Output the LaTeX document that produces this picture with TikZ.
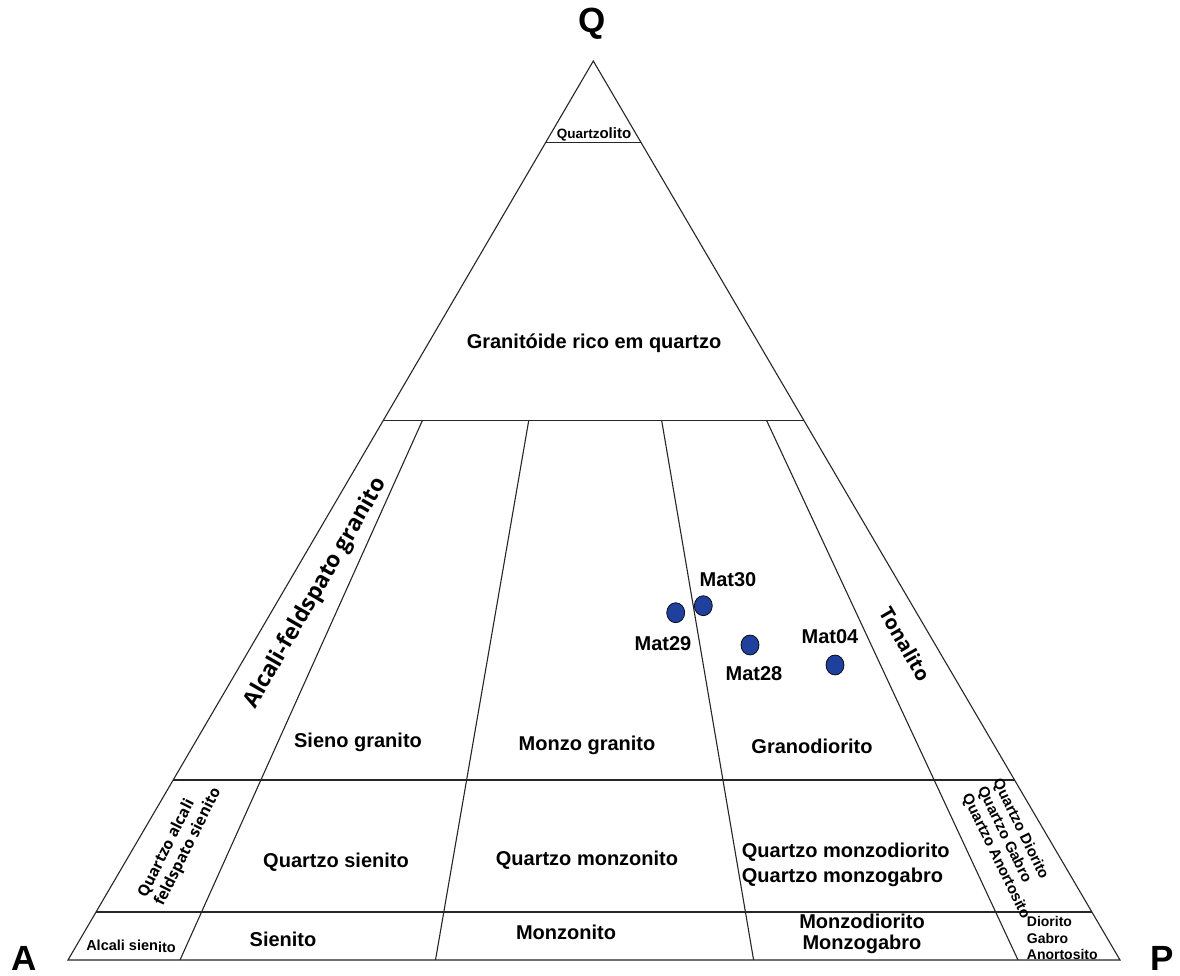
\documentclass[tikz,border=0pt]{standalone}
\usepackage{fontspec}
\setmainfont{Liberation Sans}
\newfontfamily\osans{Open Sans}
\usetikzlibrary{calc,shapes.geometric}
\definecolor{dotblue}{RGB}{32,64,158}
\tikzset{
  edge/.style={line width=1.1pt, black!85},
  lbl/.style={inner sep=0pt, font=\bfseries\fontsize{20}{22}\selectfont},
  olbl/.style={inner sep=0pt, font=\osans\bfseries\fontsize{20}{22}\selectfont},
  small/.style={inner sep=0pt, font=\bfseries\fontsize{14}{16.5}\selectfont},
  corner/.style={inner sep=0pt, font=\bfseries\fontsize{35}{38}\selectfont},
  sample/.style={ellipse, draw=black, line width=0.7pt, fill=dotblue, minimum width=18pt, minimum height=20pt, inner sep=0pt},
}
\begin{document}
\begin{tikzpicture}[x=1pt,y=-1pt]
\useasboundingbox (0,0) rectangle (1180,976);
% vertices
\coordinate (Av) at (68,960);
\coordinate (Pv) at (1120,960);
\coordinate (Qv) at (593.3,61);
% edge points
\coordinate (a90) at ($(Av)!0.9091!(Qv)$);
\coordinate (p90) at ($(Pv)!0.9091!(Qv)$);
\coordinate (a60) at ($(Av)!0.6!(Qv)$);
\coordinate (p60) at ($(Pv)!0.6!(Qv)$);
\coordinate (a20) at ($(Av)!0.2002!(Qv)$);
\coordinate (p20) at ($(Pv)!0.2002!(Qv)$);
\coordinate (a5) at ($(Av)!0.0534!(Qv)$);
\coordinate (p5) at ($(Pv)!0.0534!(Qv)$);
% divider ends
\coordinate (d1t) at (422.3,420.7);
\coordinate (d1b) at (180,960);
\coordinate (d2t) at (528.7,420.7);
\coordinate (d2b) at (435.5,960);
\coordinate (d3t) at (661.7,420.7);
\coordinate (d3b) at (753.6,960);
\coordinate (d4t) at (766.7,420.7);
\coordinate (d4b) at (1018,960);

\draw[edge] (Av) -- (Qv) -- (Pv) -- cycle;
\draw[edge] (a90) -- (p90);
\draw[edge] (a60) -- (p60);
\draw[edge] (a20) -- (p20);
\draw[edge] (a5) -- (p5);
\draw[edge] (d1t) -- (d1b);
\draw[edge] (d2t) -- (d2b);
\draw[edge] (d3t) -- (d3b);
\draw[edge] (d4t) -- (d4b);

% corner labels
\node[corner] (qlab) at (592,24) {Q};
\node[corner] (alab) at (24,958) {A};
\node[corner] (plab) at (1161.7,958) {P};

% field labels
\node[inner sep=0pt, font=\bfseries] (qzl) at (594,134) {\fontsize{13.5}{15}\selectfont Quartz\fontsize{15}{16}\selectfont olito};
\node[lbl] (grq) at (594,343) {Granitóide rico em quartzo};
\node[olbl, font=\osans\bfseries\fontsize{22.5}{24}\selectfont, rotate=60] (afg) at (316,593) {Alcali-feldspato granito};
\node[olbl, rotate=-60] (ton) at (905,644) {Tonalito};
\node[lbl] (sgr) at (358,742) {Sieno granito};
\node[lbl] (mgr) at (587,745) {Monzo granito};
\node[lbl] (gdr) at (812,746) {Granodiorito};

\node[olbl, font=\osans\bfseries\fontsize{15.5}{18.5}\selectfont, rotate=63.5, align=left] (qafs) at (180,843) {Quartzo alcali\\feldspato sienito};
\node[lbl] (qsi) at (336,862) {Quartzo sienito};
\node[lbl] (qmz) at (587,860) {Quartzo monzonito};
\node[lbl, font=\bfseries\fontsize{20}{25}\selectfont, align=left, anchor=west] (qmd) at (741.7,865) {Quartzo monzodiorito\\Quartzo monzogabro};
\node[small, font=\bfseries\fontsize{15}{17}\selectfont, rotate=-64, align=left] (qdg) at (1011,849) {Quartzo Diorito\\Quartzo Gabro\\Quartzo Anortosito};

\node[inner sep=0pt, font=\bfseries\fontsize{14.5}{16}\selectfont] (als) at (131,946) {Alcali sien\raisebox{-2pt}{ito}};
\node[lbl] (sie) at (283,939) {Sienito};
\node[lbl] (mzn) at (566,932) {Monzonito};
\node[lbl, font=\bfseries\fontsize{20}{21.5}\selectfont, align=center] (mzd) at (862,934) {Monzodiorito\\Monzogabro};
\node[small, align=left, anchor=west] (dga) at (1026.7,938) {Diorito\\Gabro\\Anortosito};

% samples
\node[sample] (m29) at (675.7,612.7) {};
\node[sample] (m30) at (703.3,605.7) {};
\node[sample] (m28) at (750,645) {};
\node[sample] (m04) at (835,665) {};
\node[lbl] (l30) at (728,580) {Mat30};
\node[lbl] (l29) at (663,644) {Mat29};
\node[lbl] (l28) at (754,674) {Mat28};
\node[lbl] (l04) at (830,637) {Mat04};
\end{tikzpicture}
\end{document}
